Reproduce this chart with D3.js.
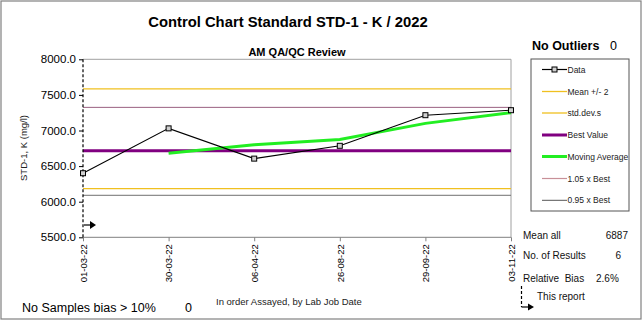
<!DOCTYPE html>
<html><head><meta charset="utf-8">
<script src="https://cdn.jsdelivr.net/npm/d3@7"></script>
<style>body{margin:0;background:#fff}svg{display:block;font-family:"Liberation Sans",Arial,sans-serif}</style>
</head><body><svg id="c" width="643" height="322"></svg>
<script>
const dates = ["01-03-22","30-03-22","06-04-22","26-08-22","29-09-22","03-11-22"];
const dataValues = [6400, 7030, 6605, 6785, 7215, 7285];
const movingAverage = [null, 6680, 6800, 6875, 7100, 7250];
const meanPlus2 = 7585, meanMinus2 = 6184;
const bestValue = 6715;
const best105 = 7325, best095 = 6090;
const yTicks = [5500, 6000, 6500, 7000, 7500, 8000];
const legendItems = ["Data","Mean +/- 2","std.dev.s","Best Value","Moving Average","1.05 x Best","0.95 x Best"];
const stats = {meanAll: "6887", nResults: "6", relBias: "2.6%", outliers: "0", biasCount: "0"};

const svg = d3.select("#c");
const L = 83, R = 511, T = 59.3, B = 237.3;
const x = d3.scalePoint().domain(dates).range([L, R]).padding(0);
const y = d3.scaleLinear().domain([5500, 8000]).range([B, T]);

// outer border
svg.append("rect").attr("x",1).attr("y",1).attr("width",640).attr("height",318).attr("fill","none").attr("stroke","#808080").attr("stroke-width",1.2);

// plot frame
svg.append("line").attr("x1",L).attr("x2",R).attr("y1",T).attr("y2",T).attr("stroke","#a0a0a0");
svg.append("line").attr("x1",R).attr("x2",R).attr("y1",T).attr("y2",B).attr("stroke","#a0a0a0");

// reference lines
function hline(v, color, w){ svg.append("line").attr("x1",L).attr("x2",R).attr("y1",y(v)).attr("y2",y(v)).attr("stroke",color).attr("stroke-width",w); }
hline(meanPlus2, "#f0c020", 1.3);
hline(meanMinus2, "#f0c020", 1.3);
hline(best105, "#9a6080", 1);
hline(best095, "#707070", 1);
hline(bestValue, "#800080", 3);

// axes
const yAxis = d3.axisLeft(y).tickValues(yTicks).tickFormat(d3.format(".1f")).tickSize(4);
const gy = svg.append("g").attr("transform",`translate(${L},0)`).call(yAxis);
gy.select(".domain").remove();
gy.selectAll("text").attr("font-size","11.5px").attr("fill","#000").attr("x",-7);
gy.selectAll("line").attr("stroke","#000");
const xAxis = d3.axisBottom(x).tickSize(4);
const gx = svg.append("g").attr("transform",`translate(0,${B})`).call(xAxis);
gx.select(".domain").attr("stroke","#808080").attr("d",`M${L},0H${R}`);
gx.selectAll("line").attr("stroke","#808080");
gx.selectAll("text").attr("font-size","9.5px").attr("fill","#000")
  .attr("transform","rotate(-90)").attr("text-anchor","end").attr("x",-7).attr("y",0).attr("dy","0.35em");

// start dashed marker
svg.append("line").attr("x1",L).attr("x2",L).attr("y1",T).attr("y2",B).attr("stroke","#000").attr("stroke-width",1.2).attr("stroke-dasharray","3,2");
svg.append("line").attr("x1",L+1).attr("x2",L+7).attr("y1",225).attr("y2",225).attr("stroke","#000").attr("stroke-width",1.2);
svg.append("path").attr("d",`M${L+7},221L${L+13},225L${L+7},229Z`).attr("fill","#000");

// moving average
const lineGen = d3.line().defined(d=>d.v!=null).x(d=>x(d.k)).y(d=>y(d.v));
svg.append("path").datum(dates.map((k,i)=>({k,v:movingAverage[i]}))).attr("d",lineGen).attr("fill","none").attr("stroke","#22ee22").attr("stroke-width",3);
// data
const pts = dates.map((k,i)=>({k,v:dataValues[i]}));
svg.append("path").datum(pts).attr("d",lineGen).attr("fill","none").attr("stroke","#000").attr("stroke-width",1.1);
svg.selectAll(".pt").data(pts).enter().append("rect").attr("x",d=>x(d.k)-2.5).attr("y",d=>y(d.v)-2.5).attr("width",5).attr("height",5).attr("fill","#d0d0d0").attr("stroke","#000").attr("stroke-width",1);

// titles
svg.append("text").attr("x",288).attr("y",27).attr("text-anchor","middle").attr("font-size","14.8px").attr("font-weight","bold").text("Control Chart Standard STD-1 - K / 2022");
svg.append("text").attr("x",297).attr("y",56).attr("text-anchor","middle").attr("font-size","11px").attr("font-weight","bold").text("AM QA/QC Review");
svg.append("text").attr("transform","translate(27,148) rotate(-90)").attr("text-anchor","middle").attr("font-size","9.5px").attr("fill","#222").text("STD-1, K (mg/l)");

// outliers
svg.append("text").attr("x",532).attr("y",50).attr("font-size","12.5px").attr("font-weight","bold").text("No Outliers");
svg.append("text").attr("x",610).attr("y",50).attr("font-size","12.5px").text(stats.outliers);

// legend
svg.append("rect").attr("x",531).attr("y",59).attr("width",98).attr("height",152).attr("fill","#fff").attr("stroke","#555").attr("stroke-width",1);
const legStyles = [
  {c:"#000",w:1.2,m:true},{c:"#f0c020",w:1.3},{c:"#f0c020",w:1.3},{c:"#800080",w:3},{c:"#22ee22",w:3},{c:"#c89098",w:1.2},{c:"#555",w:1}
];
const legY = [69.5,91.5,113,135,156.5,178.5,200.3];
legendItems.forEach((t,i)=>{
  const s = legStyles[i], yy = legY[i];
  svg.append("line").attr("x1",542).attr("x2",567).attr("y1",yy).attr("y2",yy).attr("stroke",s.c).attr("stroke-width",s.w);
  if(s.m) svg.append("rect").attr("x",552).attr("y",yy-2.5).attr("width",5).attr("height",5).attr("fill","#d0d0d0").attr("stroke","#000");
  svg.append("text").attr("x",567.5).attr("y",yy+3).attr("font-size","8.5px").attr("fill","#222").text(t);
});

// stats
const st = (tx,xx,yy,anchor)=>svg.append("text").attr("x",xx).attr("y",yy).attr("font-size","10px").attr("fill","#111").attr("text-anchor",anchor||"start").text(tx);
st("Mean all",523,239); st(stats.meanAll,628,239,"end");
st("No. of Results",523,259); st(stats.nResults,621,259,"end");
st("Relative  Bias",523,282).attr("xml:space","preserve").style("white-space","pre"); st(stats.relBias,596,282);
st("This report",537,300);
svg.append("line").attr("x1",521.5).attr("x2",521.5).attr("y1",286).attr("y2",307).attr("stroke","#000").attr("stroke-width",1.2).attr("stroke-dasharray","3,2");
svg.append("line").attr("x1",521.5).attr("x2",528).attr("y1",307).attr("y2",307).attr("stroke","#000").attr("stroke-width",1.2);
svg.append("path").attr("d","M528,303.5L534,307L528,310.5Z").attr("fill","#000");

// bottom texts
svg.append("text").attr("x",22).attr("y",312).attr("font-size","12.5px").text("No Samples bias > 10%");
svg.append("text").attr("x",185).attr("y",312).attr("font-size","12.5px").text(stats.biasCount);
svg.append("text").attr("x",216).attr("y",305).attr("font-size","9.5px").attr("fill","#222").text("In order Assayed, by Lab Job Date");
</script></body></html>
